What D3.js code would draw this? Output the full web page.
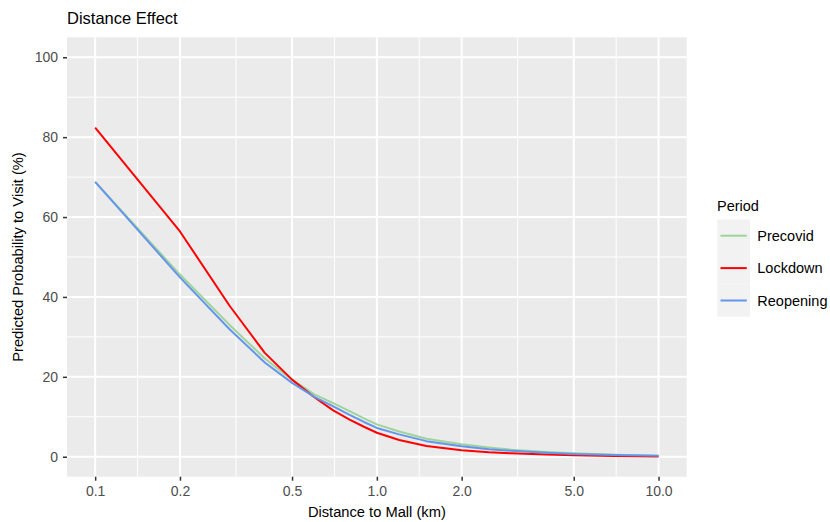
<!DOCTYPE html>
<html>
<head>
<meta charset="utf-8">
<script src="https://cdn.jsdelivr.net/npm/d3@7"></script>
<style>
  body { margin: 0; background: #fff; }
  text { font-family: "Liberation Sans", Arial, Helvetica, sans-serif; }
</style>
</head>
<body>
<svg id="chart" width="830" height="522"></svg>
<script>
// ---- data ----
const distances = [0.1, 0.2, 0.3, 0.4, 0.5, 0.6, 0.7, 0.8, 0.9, 1.0, 1.2, 1.5, 2.0, 2.5, 3.0, 4.0, 5.0, 7.0, 10.0];
const precovid  = [68.8, 45.6, 33.0, 24.6, 19.3, 15.6, 13.4, 11.4, 9.6, 8.1, 6.3, 4.5, 3.1, 2.3, 1.75, 1.2, 0.85, 0.5, 0.25];
const lockdown  = [82.4, 56.4, 37.8, 26.0, 19.3, 14.9, 11.6, 9.3, 7.5, 6.0, 4.2, 2.7, 1.6, 1.1, 0.85, 0.55, 0.38, 0.2, 0.08];
const reopening = [68.8, 44.9, 31.9, 23.6, 18.5, 15.0, 12.6, 10.5, 8.7, 7.2, 5.6, 3.9, 2.6, 1.9, 1.5, 1.0, 0.7, 0.45, 0.25];
const seriesNames = ["Precovid", "Lockdown", "Reopening"];
const seriesColors = ["#9ed49a", "#ff0000", "#6495ed"];
const xTicks = [0.1, 0.2, 0.5, 1.0, 2.0, 5.0, 10.0];
const xMinor = [0.1414, 0.3162, 0.7071, 1.4142, 3.1623, 7.0711];
const yTicks = [0, 20, 40, 60, 80, 100];
const yMinor = [10, 30, 50, 70, 90];

const seriesData = [precovid, lockdown, reopening];

// ---- layout ----
const svg = d3.select("#chart");
const panel = { left: 67, right: 686.7, top: 37.3, bottom: 476.7 };

const logMin = Math.log10(0.1), logMax = Math.log10(10);
const expX = (logMax - logMin) * 0.05;
const x = d3.scaleLog()
  .domain([Math.pow(10, logMin - expX), Math.pow(10, logMax + expX)])
  .range([panel.left, panel.right]);
const y = d3.scaleLinear()
  .domain([-5, 105])
  .range([panel.bottom, panel.top]);

// panel background
svg.append("rect")
  .attr("x", panel.left).attr("y", panel.top)
  .attr("width", panel.right - panel.left).attr("height", panel.bottom - panel.top)
  .attr("fill", "#ebebeb");

const grid = svg.append("g");
// minor grid
grid.selectAll(".xminor").data(xMinor).enter().append("line")
  .attr("x1", d => x(d)).attr("x2", d => x(d))
  .attr("y1", panel.top).attr("y2", panel.bottom)
  .attr("stroke", "#fff").attr("stroke-width", 1);
grid.selectAll(".yminor").data(yMinor).enter().append("line")
  .attr("y1", d => y(d)).attr("y2", d => y(d))
  .attr("x1", panel.left).attr("x2", panel.right)
  .attr("stroke", "#fff").attr("stroke-width", 1);
// major grid
grid.selectAll(".xmajor").data(xTicks).enter().append("line")
  .attr("x1", d => x(d)).attr("x2", d => x(d))
  .attr("y1", panel.top).attr("y2", panel.bottom)
  .attr("stroke", "#fff").attr("stroke-width", 2);
grid.selectAll(".ymajor").data(yTicks).enter().append("line")
  .attr("y1", d => y(d)).attr("y2", d => y(d))
  .attr("x1", panel.left).attr("x2", panel.right)
  .attr("stroke", "#fff").attr("stroke-width", 2);

// lines
const line = d3.line()
  .x((d, i) => x(distances[i]))
  .y(d => y(d));
seriesData.forEach((vals, k) => {
  svg.append("path")
    .datum(vals)
    .attr("d", line)
    .attr("fill", "none")
    .attr("stroke", seriesColors[k])
    .attr("stroke-width", 2)
    .attr("stroke-linejoin", "round");
});

// axes
const xAxis = d3.axisBottom(x)
  .tickValues(xTicks)
  .tickFormat(d3.format(".1f"))
  .tickSize(4).tickPadding(5);
const gx = svg.append("g")
  .attr("transform", `translate(0,${panel.bottom})`)
  .call(xAxis);
gx.select(".domain").remove();
gx.selectAll(".tick line").attr("stroke", "#333").attr("stroke-width", 1.5);
gx.selectAll(".tick text").attr("fill", "#4d4d4d").style("font-size", "14px")
  .style("font-family", "'Liberation Sans', Arial, sans-serif");

const yAxis = d3.axisLeft(y)
  .tickValues(yTicks)
  .tickFormat(d3.format("d"))
  .tickSize(4).tickPadding(5);
const gy = svg.append("g")
  .attr("transform", `translate(${panel.left},0)`)
  .call(yAxis);
gy.select(".domain").remove();
gy.selectAll(".tick line").attr("stroke", "#333").attr("stroke-width", 1.5);
gy.selectAll(".tick text").attr("fill", "#4d4d4d").style("font-size", "14px")
  .style("font-family", "'Liberation Sans', Arial, sans-serif");

// titles
svg.append("text")
  .attr("x", panel.left).attr("y", 24)
  .style("font-size", "16.5px").attr("fill", "#000")
  .text("Distance Effect");

svg.append("text")
  .attr("x", (panel.left + panel.right) / 2).attr("y", 517)
  .attr("text-anchor", "middle")
  .style("font-size", "14.7px").attr("fill", "#000")
  .text("Distance to Mall (km)");

svg.append("text")
  .attr("transform", `translate(23,${(panel.top + panel.bottom) / 2}) rotate(-90)`)
  .attr("text-anchor", "middle")
  .style("font-size", "14.7px").attr("fill", "#000")
  .text("Predicted Probability to Visit (%)");

// legend
const legend = svg.append("g");
legend.append("text")
  .attr("x", 717).attr("y", 211)
  .style("font-size", "14.5px").attr("fill", "#000")
  .text("Period");
const keyH = 32.4, keyTop = 219.5;
seriesNames.forEach((name, i) => {
  const ky = keyTop + i * keyH;
  legend.append("rect")
    .attr("x", 717.3).attr("y", ky)
    .attr("width", 32.7).attr("height", keyH)
    .attr("fill", "#f2f2f2");
  legend.append("line")
    .attr("x1", 720.5).attr("x2", 746.8)
    .attr("y1", ky + keyH / 2).attr("y2", ky + keyH / 2)
    .attr("stroke", seriesColors[i]).attr("stroke-width", 2);
  legend.append("text")
    .attr("x", 757.3).attr("y", ky + keyH / 2 + 5)
    .style("font-size", "14.5px").attr("fill", "#000")
    .text(name);
});
</script>
</body>
</html>
